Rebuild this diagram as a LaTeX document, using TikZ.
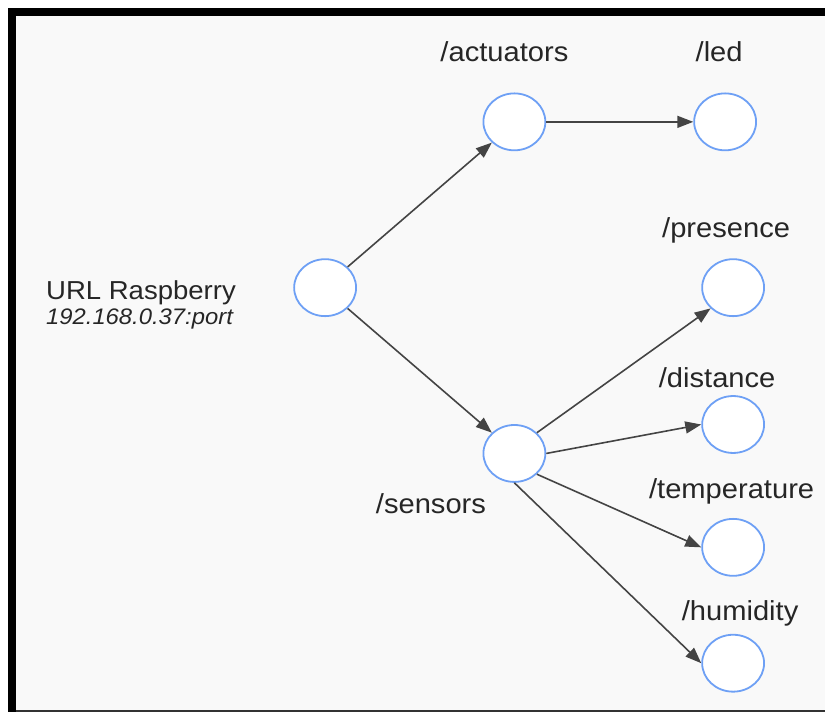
\documentclass[tikz,border=0pt]{standalone}
\usepackage{fontspec}
\setmainfont{Liberation Sans}[FakeStretch=1.06]
\definecolor{topicblue}{RGB}{110, 160, 245}
\definecolor{linkgray}{RGB}{68, 68, 68}
\definecolor{paper}{RGB}{249, 249, 249}
\usetikzlibrary{shapes.geometric, arrows.meta}

\tikzset{
  topic/.style={ellipse, draw=topicblue, fill=white, line width=1.8pt, minimum width=62pt, minimum height=57pt, inner sep=0pt},
  lbl/.style={font=\fontsize{27.5}{31}\selectfont, text=black!85, anchor=base, inner sep=0pt},
  link/.style={draw=linkgray, line width=1.6pt, -{Triangle[length=16pt, width=12pt]}}
}

\begin{document}
\begin{tikzpicture}[x=1pt, y=-1pt]
  % frame
  \fill[white] (0,0) rectangle (826,713);
  \fill[paper] (16,16) rectangle (826,711);
  \fill[black] (8,8) rectangle (826,16);
  \fill[black] (8,8) rectangle (16,713);
  \draw[black!80, line width=2pt] (16,712) -- (826,712);

  % Raspberry
  \node[lbl, anchor=base west, font=\fontsize{26}{30}\selectfont] (urlname) at (46, 300) {URL Raspberry};
  \node[lbl, anchor=base west, font=\fontsize{22.5}{26}\selectfont\itshape] (urladdr) at (46, 325) {192.168.0.37:port};
  \node[topic] (root) at (325.5, 288) {};

  % Actuators
  \node[topic] (actuators) at (515, 122) {};
  \node[lbl] (actuatorslbl) at (505, 62) {/actuators};
  \node[topic] (led) at (726, 122) {};
  \node[lbl] (ledlbl) at (720, 62) {/led};

  % Sensors
  \node[topic] (sensors) at (515, 454) {};
  \node[lbl] (sensorslbl) at (431.5, 514) {/sensors};
  \node[topic] (presence) at (734, 288) {};
  \node[lbl] (presencelbl) at (727, 238) {/presence};
  \node[topic] (distance) at (734, 425) {};
  \node[lbl] (distancelbl) at (718, 388) {/distance};
  \node[topic] (temperature) at (734, 548) {};
  \node[lbl] (temperaturelbl) at (732.5, 499) {/temperature};
  \node[topic] (humidity) at (734, 664) {};
  \node[lbl] (humiditylbl) at (741, 621) {/humidity};

  % Links
  \draw[link] (root.north east) -- (actuators.south west);
  \draw[link] (root.south east) -- (sensors.north west);
  \draw[link] (actuators.east) -- (led.west);
  \draw[link] (sensors.north east) -- (presence.south west);
  \draw[link] (sensors.east) -- (distance.west);
  \draw[link] (sensors.south east) -- (temperature.west);
  \draw[link] (sensors.south) -- (humidity.west);
\end{tikzpicture}
\end{document}
